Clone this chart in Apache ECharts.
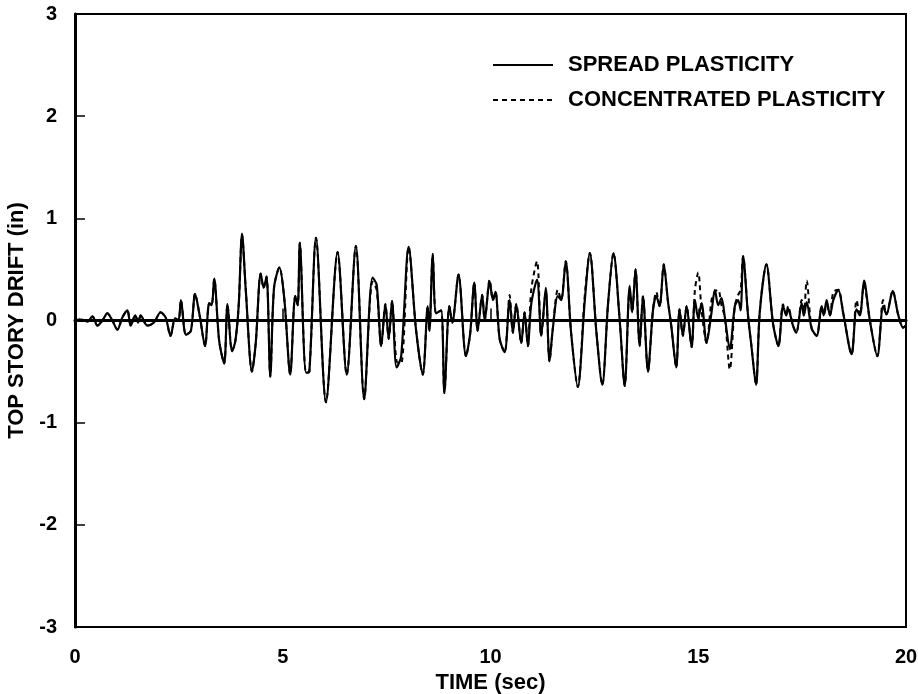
<!DOCTYPE html>
<html>
<head>
<meta charset="utf-8">
<title>Top Story Drift</title>
<script src="https://cdn.jsdelivr.net/npm/echarts@6/dist/echarts.min.js"></script>
<style>
  html, body { margin: 0; padding: 0; background: #fff; }
  #chart { width: 918px; height: 694px; }
</style>
</head>
<body>
<div id="chart"></div>
<script>
// Time instants (s) shared by both response histories
const timeSec = [
  0, 0.15, 0.3, 0.42, 0.54, 0.66, 0.78, 0.9, 1.02, 1.14, 1.26, 1.34, 1.45, 1.52, 1.58, 1.74, 1.9,
  2.06, 2.18, 2.3, 2.41, 2.49, 2.55, 2.67, 2.79, 2.89, 3.0, 3.13, 3.23, 3.29, 3.35, 3.47, 3.59,
  3.67, 3.78, 3.86, 3.94, 4.02, 4.11, 4.26, 4.35, 4.47, 4.54, 4.61, 4.7, 4.79, 4.92, 5.04, 5.18,
  5.3, 5.36, 5.41, 5.56, 5.64, 5.8, 6.04, 6.32, 6.54, 6.76, 6.96, 7.16, 7.26, 7.37, 7.47, 7.55,
  7.63, 7.74, 7.85, 8.03, 8.21, 8.37, 8.49, 8.53, 8.61, 8.69, 8.81, 8.89, 9.01, 9.08, 9.23, 9.41,
  9.51, 9.61, 9.69, 9.8, 9.86, 9.98, 10.06, 10.12, 10.22, 10.34, 10.46, 10.54, 10.62, 10.74, 10.82,
  10.9, 10.98, 11.12, 11.22, 11.33, 11.42, 11.5, 11.62, 11.7, 11.81, 11.94, 12.1, 12.27, 12.39,
  12.55, 12.69, 12.83, 12.96, 13.11, 13.23, 13.35, 13.41, 13.49, 13.59, 13.67, 13.79, 13.91, 13.99,
  14.07, 14.17, 14.27, 14.35, 14.47, 14.55, 14.63, 14.72, 14.84, 14.92, 15.0, 15.08, 15.2, 15.32,
  15.4, 15.48, 15.56, 15.64, 15.76, 15.88, 15.96, 16.02, 16.08, 16.2, 16.28, 16.39, 16.48, 16.64,
  16.8, 16.93, 17.04, 17.12, 17.16, 17.28, 17.36, 17.49, 17.54, 17.61, 17.73, 17.85, 17.97, 18.02,
  18.09, 18.17, 18.25, 18.37, 18.49, 18.69, 18.81, 18.89, 18.99, 19.13, 19.31, 19.45, 19.53, 19.68,
  19.81, 19.93, 20.0
];

// Top story drift (in), spread plasticity model
const spreadDrift = [
  0.0, 0.01, -0.01, 0.04, -0.05, 0.0, 0.07, 0.0, -0.09, 0.03, 0.1, -0.05, 0.05, -0.02, 0.05, -0.05, -0.02,
  0.08, 0.03, -0.15, 0.02, 0.0, 0.2, -0.14, -0.1, 0.26, 0.05, -0.25, 0.17, 0.15, 0.41, -0.2, -0.42,
  0.16, -0.3, -0.2, 0.15, 0.85, 0.3, -0.5, -0.22, 0.46, 0.32, 0.43, -0.55, 0.32, 0.52, 0.2, -0.53,
  0.24, 0.15, 0.76, -0.51, -0.5, 0.81, -0.8, 0.67, -0.53, 0.73, -0.77, 0.42, 0.35, -0.25, 0.16, -0.18,
  0.19, -0.46, -0.35, 0.72, -0.1, -0.53, 0.14, -0.1, 0.65, 0.07, 0.1, -0.71, 0.14, -0.02, 0.45, -0.35,
  -0.13, 0.37, -0.1, 0.25, 0.0, 0.38, 0.2, 0.28, -0.18, -0.31, 0.2, -0.12, 0.16, -0.22, 0.08,
  -0.25, 0.16, 0.4, -0.15, 0.32, -0.4, -0.08, 0.24, 0.2, 0.58, -0.12, -0.65, 0.2, 0.66,
  -0.12, -0.63, 0.17, 0.66, 0.0, -0.64, 0.34, 0.08, 0.5, -0.25, 0.24, -0.5, 0.1, 0.24,
  0.14, 0.55, 0.19, -0.05, -0.46, 0.11, -0.15, 0.14, -0.26, 0.2, 0.02, 0.17, -0.22, 0.08,
  0.3, 0.15, 0.22, 0.03, -0.28, 0.14, 0.2, 0.1, 0.63, 0.04, -0.25, -0.63, 0.08, 0.55,
  -0.03, -0.25, 0.14, 0.05, 0.12, -0.05, -0.12, 0.17, 0.05, 0.18, -0.08, -0.15, 0.14, 0.05,
  0.2, 0.05, 0.2, 0.3, 0.07, -0.33, 0.11, 0.05, 0.39, 0.0, -0.35, 0.14, 0.06, 0.29,
  0.06, -0.07, -0.05
];

// Top story drift (in), concentrated plasticity model
const concentratedDrift = [
  0.0, 0.01, -0.01, 0.04, -0.05, 0.0, 0.07, 0.0, -0.09, 0.03, 0.1, -0.05, 0.05, -0.02, 0.05, -0.05, -0.02,
  0.08, 0.03, -0.15, 0.02, 0.0, 0.2, -0.14, -0.1, 0.26, 0.05, -0.25, 0.17, 0.15, 0.41, -0.2, -0.42,
  0.16, -0.3, -0.2, 0.15, 0.84, 0.3, -0.5, -0.22, 0.46, 0.32, 0.43, -0.55, 0.32, 0.52, 0.2, -0.53,
  0.24, 0.15, 0.76, -0.51, -0.5, 0.81, -0.8, 0.67, -0.53, 0.73, -0.77, 0.38, 0.3, -0.25, 0.16, -0.18,
  0.19, -0.4, -0.42, 0.72, -0.1, -0.53, 0.14, -0.1, 0.65, 0.07, 0.1, -0.71, 0.14, -0.02, 0.45, -0.35,
  -0.13, 0.37, -0.1, 0.25, 0.0, 0.4, 0.2, 0.28, -0.18, -0.31, 0.25, -0.12, 0.16, -0.22, 0.08,
  -0.25, 0.3, 0.58, -0.15, 0.28, -0.4, -0.08, 0.3, 0.2, 0.58, -0.12, -0.65, 0.25, 0.66,
  -0.12, -0.63, 0.17, 0.66, 0.0, -0.64, 0.3, 0.08, 0.5, -0.25, 0.24, -0.5, 0.1, 0.28,
  0.14, 0.55, 0.19, -0.05, -0.46, 0.11, -0.15, 0.14, -0.26, 0.3, 0.47, 0.1, -0.22, 0.2,
  0.28, 0.3, 0.15, 0.03, -0.48, 0.14, 0.25, 0.3, 0.63, 0.04, -0.25, -0.63, 0.08, 0.55,
  -0.03, -0.25, 0.16, 0.05, 0.14, -0.05, -0.12, 0.2, 0.05, 0.39, -0.08, -0.15, 0.14, 0.05,
  0.15, 0.05, 0.28, 0.3, 0.07, -0.33, 0.2, 0.05, 0.35, 0.0, -0.35, 0.2, 0.06, 0.29,
  0.06, -0.07, -0.05
];

const xTicks = [0, 5, 10, 15, 20];
const yTicks = [-3, -2, -1, 0, 1, 2, 3];

const FONT = '"Liberation Sans", Arial, Helvetica, sans-serif';

const chart = echarts.init(document.getElementById('chart'), null, { renderer: 'canvas' });

const pairs = (vals) => timeSec.map((t, i) => [t, vals[i]]);

chart.setOption({
  animation: false,
  backgroundColor: '#ffffff',
  grid: {
    left: 75, right: 12, top: 14, bottom: 67,
    outerBoundsMode: 'none',
    containLabel: false,
    show: true, borderColor: '#000', borderWidth: 2, backgroundColor: 'transparent'
  },
  legend: {
    orient: 'vertical',
    left: 487, top: 49,
    itemWidth: 60, itemHeight: 22, itemGap: 13,
    itemStyle: { opacity: 0 },
    textStyle: {
      fontFamily: FONT, fontWeight: 'bold', fontSize: 22, color: '#000',
      padding: [0, 0, 0, 10]
    },
    data: ['SPREAD PLASTICITY', 'CONCENTRATED PLASTICITY']
  },
  xAxis: {
    type: 'value',
    min: xTicks[0], max: xTicks[xTicks.length - 1], interval: 5,
    name: 'TIME (sec)', nameLocation: 'middle', nameGap: 43,
    nameTextStyle: { fontFamily: FONT, fontWeight: 'bold', fontSize: 22, color: '#000' },
    axisLine: { show: true, lineStyle: { color: '#000', width: 3 } },
    axisTick: { show: true, inside: true, length: 12, lineStyle: { color: '#000', width: 1.5 } },
    axisLabel: { margin: 20, fontFamily: FONT, fontWeight: 'bold', fontSize: 20, color: '#000' },
    splitLine: { show: false }
  },
  yAxis: {
    type: 'value',
    min: yTicks[0], max: yTicks[yTicks.length - 1], interval: 1,
    name: 'TOP STORY DRIFT (in)', nameLocation: 'middle', nameGap: 39,
    nameTextStyle: { fontFamily: FONT, fontWeight: 'bold', fontSize: 22, color: '#000' },
    axisLine: { show: true, lineStyle: { color: '#000', width: 3 } },
    axisTick: { show: true, inside: true, length: 10, lineStyle: { color: '#000', width: 1.5 } },
    axisLabel: { margin: 18, fontFamily: FONT, fontWeight: 'bold', fontSize: 20, color: '#000' },
    splitLine: { show: false }
  },
  series: [
    {
      name: 'SPREAD PLASTICITY',
      type: 'line',
      data: pairs(spreadDrift),
      symbol: 'none',
      smooth: 0.3,
      lineStyle: { color: '#000', width: 2.2, type: 'solid' },
      itemStyle: { color: '#000' },
      markLine: {
        silent: true,
        symbol: ['none', 'none'],
        label: { show: false },
        lineStyle: { color: '#000', width: 1.5, type: 'solid' },
        data: [{ yAxis: 0 }]
      }
    },
    {
      name: 'CONCENTRATED PLASTICITY',
      type: 'line',
      data: pairs(concentratedDrift),
      symbol: 'none',
      smooth: 0.3,
      lineStyle: { color: '#000', width: 2, type: [5, 4] },
      itemStyle: { color: '#000' }
    }
  ]
});
</script>
</body>
</html>
